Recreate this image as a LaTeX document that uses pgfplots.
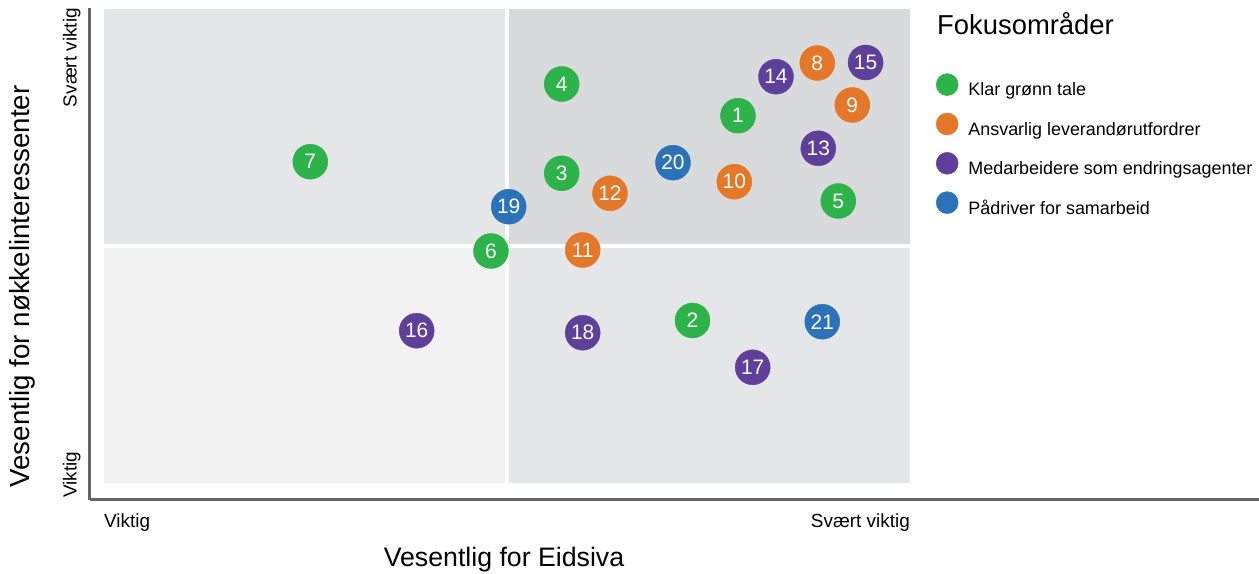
\documentclass[border=0pt]{standalone}
\usepackage{fontspec}
\setmainfont{Liberation Sans}
\usepackage{pgfplots}
\pgfplotsset{compat=1.18}
\definecolor{cgreen}{HTML}{2DB34A}
\definecolor{corange}{HTML}{E57729}
\definecolor{cpurple}{HTML}{5E3F99}
\definecolor{cblue}{HTML}{2C72B8}
\definecolor{qTL}{HTML}{E5E6E7}
\definecolor{qTR}{HTML}{D9DADC}
\definecolor{qBL}{HTML}{F2F2F2}
\definecolor{qBR}{HTML}{E5E6E7}
\definecolor{axisgray}{HTML}{666666}

\pgfplotstableread{
x y label
738 458.3 1
692.5 253.5 2
561.7 400.7 3
561.7 490 4
838.3 373 5
491 323 6
310.3 412.3 7
}\green
\pgfplotstableread{
x y label
817.3 511 8
852.3 469 9
734.3 392.3 10
582.7 324 11
610 380.7 12
}\orange
\pgfplotstableread{
x y label
818.3 425.7 13
776 497.3 14
865.6 511.5 15
416.7 243.3 16
752.7 206.7 17
582.7 241.3 18
}\purple
\pgfplotstableread{
x y label
508.7 367.3 19
673 411.3 20
822.3 252.3 21
}\blue

\begin{document}
\begin{tikzpicture}
\useasboundingbox (0,0) rectangle (1259bp,574bp);
\begin{axis}[
  at={(89.5bp,74.5bp)}, anchor=south west,
  x=1bp, y=1bp,
  xmin=89.5, xmax=1259, ymin=74.5, ymax=566,
  axis lines=left,
  axis line style={-, draw=axisgray, line width=2bp},
  xtick=\empty, ytick=\empty,
  clip=false,
  legend style={at={(axis cs:936,500.6)}, anchor=north west, draw=none, fill=none,
    inner sep=0pt, outer sep=0pt, row sep=15.4bp, column sep=10bp,
    font=\fontsize{18}{18}\selectfont,
    nodes={inner sep=0pt, outer sep=0pt}},
  legend cell align=left,
  legend image code/.code={\fill (11bp,5.5bp) circle (11bp);},
  nodes near coords,
  point meta=explicit symbolic,
  nodes near coords align={center},
  every node near coord/.append style={anchor=center, text=white, inner sep=0pt,
    font=\fontsize{21}{21}\selectfont},
]
% quadrants
\addplot[fill=qTL, draw=none, forget plot, nodes near coords=] coordinates {(103.5,329.7)(505,329.7)(505,564.7)(103.5,564.7)};
\addplot[fill=qTR, draw=none, forget plot, nodes near coords=] coordinates {(509,329.7)(910,329.7)(910,564.7)(509,564.7)};
\addplot[fill=qBL, draw=none, forget plot, nodes near coords=] coordinates {(103.5,91.3)(505,91.3)(505,325.7)(103.5,325.7)};
\addplot[fill=qBR, draw=none, forget plot, nodes near coords=] coordinates {(509,91.3)(910,91.3)(910,325.7)(509,325.7)};
% points
\addplot[only marks, mark=*, mark size=17.5bp, color=cgreen] table[x=x, y=y, meta=label] {\green};
\addlegendentry{Klar grønn tale}
\addplot[only marks, mark=*, mark size=17.5bp, color=corange] table[x=x, y=y, meta=label] {\orange};
\addlegendentry{Ansvarlig leverandørutfordrer}
\addplot[only marks, mark=*, mark size=17.5bp, color=cpurple] table[x=x, y=y, meta=label] {\purple};
\addlegendentry{Medarbeidere som endringsagenter}
\addplot[only marks, mark=*, mark size=17.5bp, color=cblue] table[x=x, y=y, meta=label] {\blue};
\addlegendentry{Pådriver for samarbeid}
% texts
\node[anchor=base west, font=\fontsize{27.5}{27.5}\selectfont, inner sep=0pt] at (axis cs:937,539) {Fokusområder};
\node[anchor=base west, font=\fontsize{19}{19}\selectfont, inner sep=0pt] at (axis cs:104,47) {Viktig};
\node[anchor=base east, font=\fontsize{19}{19}\selectfont, inner sep=0pt] at (axis cs:910,47) {Svært viktig};
\node[anchor=base east, rotate=90, font=\fontsize{19}{19}\selectfont, inner sep=0pt] at (axis cs:76.7,566) {Svært viktig};
\node[anchor=base west, rotate=90, font=\fontsize{19}{19}\selectfont, inner sep=0pt] at (axis cs:76.7,76) {Viktig};
\node[anchor=base, font=\fontsize{26.8}{26.8}\selectfont, inner sep=0pt] at (axis cs:504,8) {Vesentlig for Eidsiva};
\node[anchor=base, rotate=90, font=\fontsize{27.8}{27.8}\selectfont, inner sep=0pt] at (axis cs:29.5,287.5) {Vesentlig for nøkkelinteressenter};
\end{axis}
\end{tikzpicture}
\end{document}
